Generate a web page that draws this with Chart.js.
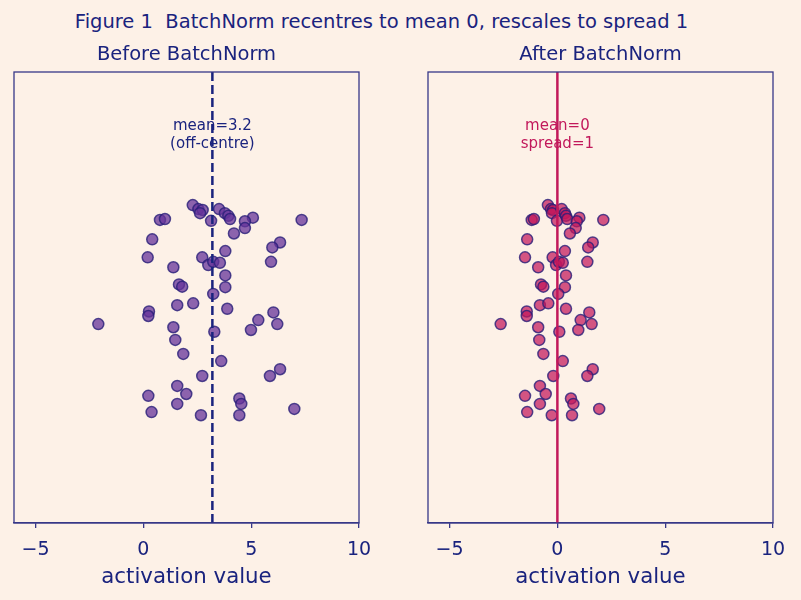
<!DOCTYPE html>
<html><head><meta charset="utf-8">
<script src="https://cdn.jsdelivr.net/npm/chart.js@4"></script>
<style>
html,body{margin:0;padding:0;background:#fdf1e7;}
body{width:801px;height:600px;position:relative;overflow:hidden;font-family:'DejaVu Sans',sans-serif;}
#title{position:absolute;top:10px;left:0;width:763px;text-align:center;font-size:19.5px;line-height:23px;color:#1a237e;white-space:pre;}
.box{position:absolute;top:0;height:600px;}
</style></head><body>
<div id="title">Figure 1  BatchNorm recentres to mean 0, rescales to spread 1</div>
<div class="box" style="left:0;width:400px"><canvas id="c1"></canvas></div>
<div class="box" style="left:400px;width:401px"><canvas id="c2"></canvas></div>
<script>
const PANEL_TITLES = ['Before BatchNorm', 'After BatchNorm'];
const X_TICKS = [-5, 0, 5, 10];
const X_LABEL = 'activation value';
// vertical jitter (shared by both panels)
const JITTER = [7.05,6.96,6.94,6.87,6.70,6.96,6.87,6.81,6.74,6.77,6.69,6.54,6.42,6.72,6.72,6.74,6.29,6.22,6.11,5.89,
  6.03,5.89,5.72,5.79,5.77,5.79,5.67,5.49,5.29,5.24,5.23,5.08,4.83,4.87,4.69,4.59,4.75,4.67,4.50,4.41,
  4.28,4.41,4.34,4.24,4.06,3.75,3.59,3.26,3.41,3.26,3.04,2.86,2.82,2.76,2.64,2.64,2.46,2.39,2.39,2.53];
const BEFORE = [2.29,2.55,2.75,2.63,3.14,3.51,3.78,3.94,4.02,5.08,4.71,4.71,4.20,7.34,0.77,1.00,0.41,6.34,5.98,0.20,
  3.80,2.73,3.01,3.24,3.55,5.92,1.39,3.80,1.65,1.80,3.80,3.24,1.57,2.31,0.26,0.23,3.89,6.03,5.33,6.21,
  4.99,-2.09,1.39,3.29,1.48,1.85,3.61,2.73,6.34,5.87,1.57,1.99,0.23,4.45,4.54,1.57,0.38,2.67,4.45,7.00];
const AFTER = [-0.44,-0.30,-0.20,-0.25,-0.02,0.20,0.35,0.40,0.46,1.02,0.90,0.85,0.58,2.13,-1.19,-1.09,-1.40,1.64,1.43,-1.50,
  0.35,-0.22,-0.06,0.07,0.25,1.39,-0.89,0.40,-0.76,-0.65,0.35,0.04,-0.81,-0.42,-1.42,-1.42,0.40,1.48,1.08,1.59,
  0.97,-2.63,-0.89,0.09,-0.84,-0.65,0.25,-0.19,1.64,1.39,-0.81,-0.54,-1.50,0.63,0.74,-0.81,-1.40,-0.26,0.68,1.94];
const MEAN_BEFORE = 3.2;
const MEAN_AFTER = 0;
const NOTE_BEFORE = ['mean=3.2', '(off-centre)'];
const NOTE_AFTER = ['mean=0', 'spread=1'];
const NOTE_Y = 8.8;

const NAVY = '#1a237e';
const AXC = '#383888';
const CRIMSON = '#c2185b';
const FONT = "'DejaVu Sans', sans-serif";

const framePlugin = {
  id: 'frame',
  afterDatasetsDraw(chart) {
    const {ctx, chartArea: a} = chart;
    ctx.save();
    ctx.strokeStyle = AXC; ctx.lineWidth = 1.3;
    ctx.strokeRect(a.left, a.top, a.right - a.left, a.bottom - a.top);
    ctx.restore();
  }
};

function notePlugin(lines, xVal, color) {
  return {
    id: 'note',
    beforeDatasetsDraw(chart) {
      const {ctx} = chart;
      const px = chart.scales.x.getPixelForValue(xVal);
      const py = chart.scales.y.getPixelForValue(NOTE_Y);
      ctx.save();
      ctx.font = '15px ' + FONT;
      ctx.fillStyle = color;
      ctx.textAlign = 'center';
      ctx.textBaseline = 'middle';
      lines.forEach((l, i) => ctx.fillText(l, px, py + i * 18));
      ctx.restore();
    }
  };
}

function makeChart(id, title, values, mean, meanColor, dash, fill, edge, note, noteColor, padL, padR) {
  const pts = values.map((v, i) => ({x: v, y: JITTER[i]}));
  return new Chart(document.getElementById(id), {
    type: 'scatter',
    data: {
      datasets: [
        {type: 'line', data: [{x: mean, y: 0}, {x: mean, y: 10}], borderColor: meanColor,
         borderWidth: 2.5, borderDash: dash, pointRadius: 0, fill: false, order: 0},
        {data: pts, backgroundColor: fill, borderColor: edge, borderWidth: 1.5, pointRadius: 5.5, order: 1}
      ]
    },
    options: {
      responsive: true, maintainAspectRatio: false, animation: false, devicePixelRatio: 1,
      layout: {padding: {left: padL, right: padR, top: 0, bottom: 0}},
      plugins: {
        legend: {display: false}, tooltip: {enabled: false},
        title: {display: true, text: title, color: NAVY, font: {family: FONT, size: 19.5, weight: 'normal'},
                padding: {top: 43.3, bottom: 5.3}}
      },
      scales: {
        x: {
          type: 'linear', min: -6, max: 10,
          afterBuildTicks: s => { s.ticks = X_TICKS.map(v => ({value: v})); },
          afterFit: s => { s.height = 77; },
          ticks: {color: NAVY, font: {family: FONT, size: 19}, padding: 11,
                  callback: v => v < 0 ? '\u2212' + Math.abs(v) : String(v)},
          grid: {display: true, drawOnChartArea: false, drawTicks: true, tickLength: 5, color: AXC, lineWidth: 1.3},
          border: {display: true, color: AXC, width: 1.3},
          title: {display: true, text: X_LABEL, color: NAVY, font: {family: FONT, size: 21.3}, padding: {top: 0, bottom: 10}}
        },
        y: {min: 0, max: 10, display: false}
      }
    },
    plugins: [framePlugin, notePlugin(note, mean, noteColor)]
  });
}

makeChart('c1', PANEL_TITLES[0], BEFORE, MEAN_BEFORE, NAVY, [9, 4],
  'rgba(102,51,153,0.75)', 'rgba(40,30,120,0.8)', NOTE_BEFORE, NAVY, 14, 41);
makeChart('c2', PANEL_TITLES[1], AFTER, MEAN_AFTER, CRIMSON, [],
  'rgba(194,24,91,0.72)', 'rgba(40,30,120,0.8)', NOTE_AFTER, CRIMSON, 28, 28);
</script>
</body></html>
